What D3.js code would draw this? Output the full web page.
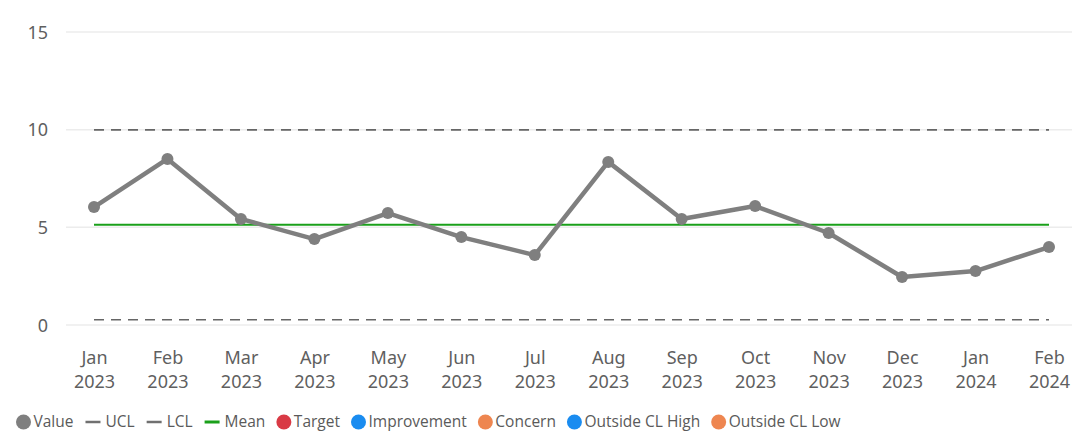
<!DOCTYPE html>
<html><head><meta charset="utf-8">
<script src="https://cdn.jsdelivr.net/npm/d3@7"></script>
<style>
html,body{margin:0;padding:0;background:#fff;}
svg{display:block;}
</style></head>
<body><svg id="c" width="1072" height="432"></svg>
<script>
const months = ["Jan","Feb","Mar","Apr","May","Jun","Jul","Aug","Sep","Oct","Nov","Dec","Jan","Feb"];
const years  = ["2023","2023","2023","2023","2023","2023","2023","2023","2023","2023","2023","2023","2024","2024"];
const values = [6.04,8.5,5.43,4.4,5.73,4.5,3.58,8.35,5.43,6.09,4.71,2.46,2.76,3.99];
const ucl = 9.99;
const lcl = 0.27;
const mean = 5.13;
const yTicks = [0,5,10,15];
const legendItems = [
  {name:"Value", type:"dot", color:"#7f7f7f"},
  {name:"UCL", type:"line", color:"#707070"},
  {name:"LCL", type:"line", color:"#707070"},
  {name:"Mean", type:"line", color:"#1aa01a"},
  {name:"Target", type:"dot", color:"#d93a45"},
  {name:"Improvement", type:"dot", color:"#1a8cf0"},
  {name:"Concern", type:"dot", color:"#ee8650"},
  {name:"Outside CL High", type:"dot", color:"#1a8cf0"},
  {name:"Outside CL Low", type:"dot", color:"#ee8650"}
];

const svg = d3.select("#c");
const cats = months.map((m,i)=>m+" "+years[i]+"|"+i);
const x = d3.scalePoint().domain(cats).range([94,1049]);
const y = d3.scaleLinear().domain([0,15]).range([325,32]);
const axisFont = "'Noto Sans', 'Open Sans', sans-serif";

// gridlines
svg.append("g").selectAll("line").data(yTicks).join("line")
  .attr("x1",66).attr("x2",1072)
  .attr("y1",d=>y(d)).attr("y2",d=>y(d))
  .attr("stroke","#ececec").attr("stroke-width",1.5);

// y axis
const ya = svg.append("g").attr("transform","translate(48,0)")
  .call(d3.axisLeft(y).tickValues(yTicks).tickSize(0).tickPadding(0));
ya.select(".domain").remove();
ya.selectAll("text").attr("font-family",axisFont).attr("font-size",18)
  .attr("fill","#5f5f5f").attr("dy","0.35em");

// x axis
const xa = svg.append("g").attr("transform","translate(0,346)")
  .call(d3.axisBottom(x).tickSize(0).tickPadding(0).tickFormat(""));
xa.select(".domain").remove();
xa.selectAll(".tick").each(function(d,i){
  const t = d3.select(this).append("text")
    .attr("font-family",axisFont).attr("font-size",18).attr("fill","#5f5f5f")
    .attr("text-anchor","middle");
  t.append("tspan").attr("x",0).attr("y",18).text(months[i]);
  t.append("tspan").attr("x",0).attr("y",42).text(years[i]);
});

// control limits
const x0 = x(cats[0]), x1 = x(cats[cats.length-1]);
[ucl,lcl].forEach(v=>{
  svg.append("line").attr("x1",x0).attr("x2",x1).attr("y1",y(v)).attr("y2",y(v))
    .attr("stroke","#666").attr("stroke-width",1.6).attr("stroke-dasharray","10,7");
});
svg.append("line").attr("x1",x0).attr("x2",x1).attr("y1",y(mean)).attr("y2",y(mean))
  .attr("stroke","#1aa01a").attr("stroke-width",2);

// value line
const line = d3.line().x((d,i)=>x(cats[i])).y(d=>y(d));
svg.append("path").datum(values).attr("d",line)
  .attr("fill","none").attr("stroke","#7f7f7f").attr("stroke-width",4.5)
  .attr("stroke-linejoin","round");
svg.append("g").selectAll("circle").data(values).join("circle")
  .attr("cx",(d,i)=>x(cats[i])).attr("cy",d=>y(d)).attr("r",6)
  .attr("fill","#7f7f7f");

// legend
const lg = svg.append("g").attr("transform","translate(0,422)");
let cx = 16;
legendItems.forEach(it=>{
  const g = lg.append("g");
  if(it.type==="dot"){
    g.append("circle").attr("cx",cx+7.5).attr("cy",0).attr("r",7.5).attr("fill",it.color);
    cx += 17.5;
  } else {
    g.append("line").attr("x1",cx+1).attr("x2",cx+16).attr("y1",0).attr("y2",0)
      .attr("stroke",it.color).attr("stroke-width",it.name==="Mean"?3:2.5);
    cx += 21;
  }
  const t = g.append("text").attr("x",cx).attr("y",0).attr("dy","0.35em")
    .attr("font-family","'Open Sans', 'Noto Sans', sans-serif").attr("font-size",15.5)
    .attr("fill","#5a5a5a").text(it.name);
  cx += t.node().getComputedTextLength() + 11;
});
</script>
</body></html>
